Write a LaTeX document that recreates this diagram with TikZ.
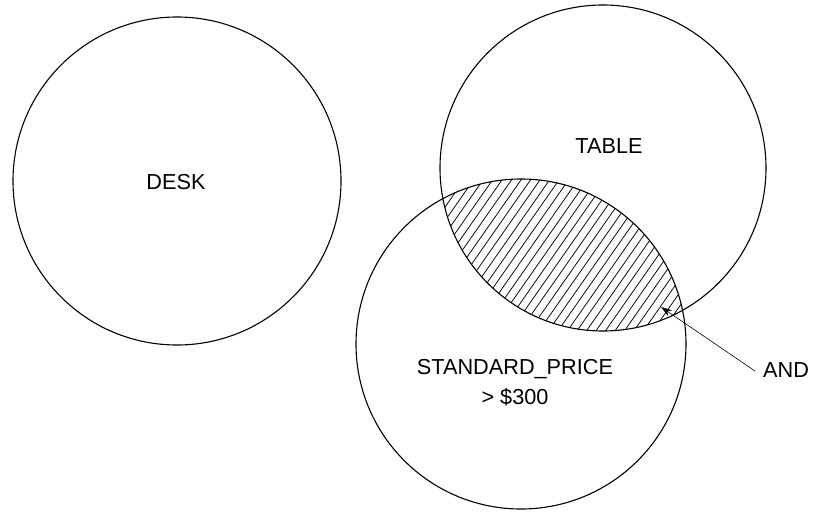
\documentclass[tikz,border=0pt]{standalone}
\usepackage{fontspec}
\setmainfont{Liberation Sans}
\usetikzlibrary{arrows.meta}
\begin{document}
\begin{tikzpicture}[x=1pt,y=-1pt,
  setcircle/.style={circle,draw,line width=1.1pt,inner sep=0pt},
  lbl/.style={font=\fontsize{21.7}{30}\selectfont,align=center,inner sep=0pt},
  hatch/.style={line width=0.75pt},
  pointer/.style={line width=0.6pt,-{Stealth[length=11pt,width=7pt]}}]
\useasboundingbox (0,0) rectangle (821,511);
% hatched intersection
\begin{scope}
  \clip (603,168) circle (163pt);
  \clip (521,344) circle (165pt);
  \foreach \i in {-40,...,40} {
    \draw[hatch] (560+9.5*\i-143.4,465) -- (560+9.5*\i+143.4,55);
  }
\end{scope}
\node[setcircle,minimum size=328pt] (desk) at (177,181) {};
\node[setcircle,minimum size=326pt] (table) at (603,168) {};
\node[setcircle,minimum size=330pt] (price) at (521,344) {};
\node[lbl] (desklbl) at (176,182) {DESK};
\node[lbl] (tablelbl) at (609,146) {TABLE};
\node[lbl] (pricelbl) at (515,383) {STANDARD\_PRICE\\{>} \$300};
\node[lbl,anchor=west] (and) at (763,370) {AND};
\coordinate (tip) at (661,307);
\draw[pointer] ([xshift=-8pt,yshift=-1pt]and.west) -- (tip);
\end{tikzpicture}
\end{document}
